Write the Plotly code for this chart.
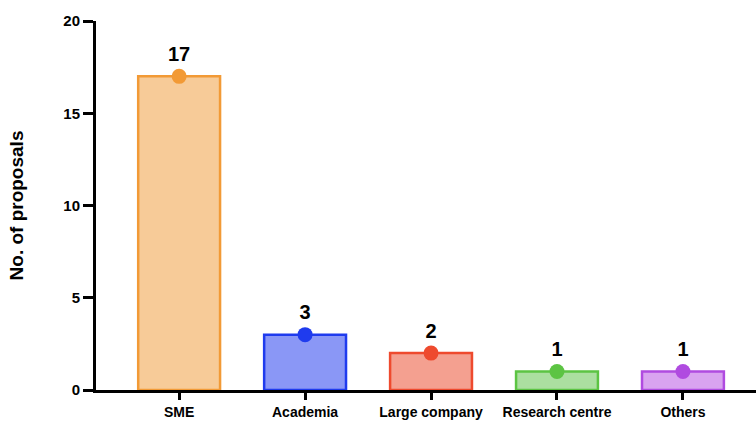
import plotly.graph_objects as go

categories = ["SME", "Academia", "Large company", "Research centre", "Others"]
proposals = [17, 3, 2, 1, 1]
fill_colors = ["#F7CB98", "#8A97F6", "#F4A090", "#ABDFA0", "#D9A3F0"]
edge_colors = ["#F29A36", "#1F3BEE", "#EE4A2E", "#5CC443", "#B04BE0"]
y_ticks = [0, 5, 10, 15, 20]

FONT = "Liberation Sans, Arial, Helvetica, sans-serif"

fig = go.Figure()

fig.add_trace(go.Bar(
    x=list(range(len(categories))),
    y=proposals,
    width=0.65,
    marker=dict(color=fill_colors, line=dict(color=edge_colors, width=2.5)),
    hoverinfo="skip",
    showlegend=False,
))

fig.add_trace(go.Scatter(
    x=list(range(len(categories))),
    y=proposals,
    mode="markers+text",
    marker=dict(color=edge_colors, size=15, line=dict(width=0)),
    text=[str(v) for v in proposals],
    textposition="top center",
    textfont=dict(family=FONT, size=20, color="black", weight="bold"),
    cliponaxis=False,
    showlegend=False,
))

fig.update_layout(
    width=756,
    height=421,
    margin=dict(l=96, r=0, t=21, b=31),
    paper_bgcolor="white",
    plot_bgcolor="white",
    bargap=0.35,
    font=dict(family=FONT, color="black"),
    xaxis=dict(
        range=[-0.66, 4.58],
        tickmode="array",
        tickvals=list(range(len(categories))),
        ticktext=categories,
        showline=True,
        linecolor="black",
        linewidth=3,
        ticks="outside",
        ticklen=7,
        tickwidth=3,
        tickcolor="black",
        showgrid=False,
        zeroline=False,
        tickfont=dict(family=FONT, size=14, color="black", weight="bold"),
    ),
    yaxis=dict(
        range=[0, 20],
        tickmode="array",
        tickvals=y_ticks,
        showline=True,
        linecolor="black",
        linewidth=3,
        ticks="outside",
        ticklen=10,
        tickwidth=3,
        tickcolor="black",
        showgrid=False,
        zeroline=False,
        tickfont=dict(family=FONT, size=15, color="black", weight="bold"),
        title=dict(text="No. of proposals", font=dict(family=FONT, size=19, color="black", weight="bold"), standoff=35),
    ),
)

fig.write_html("out.html")
